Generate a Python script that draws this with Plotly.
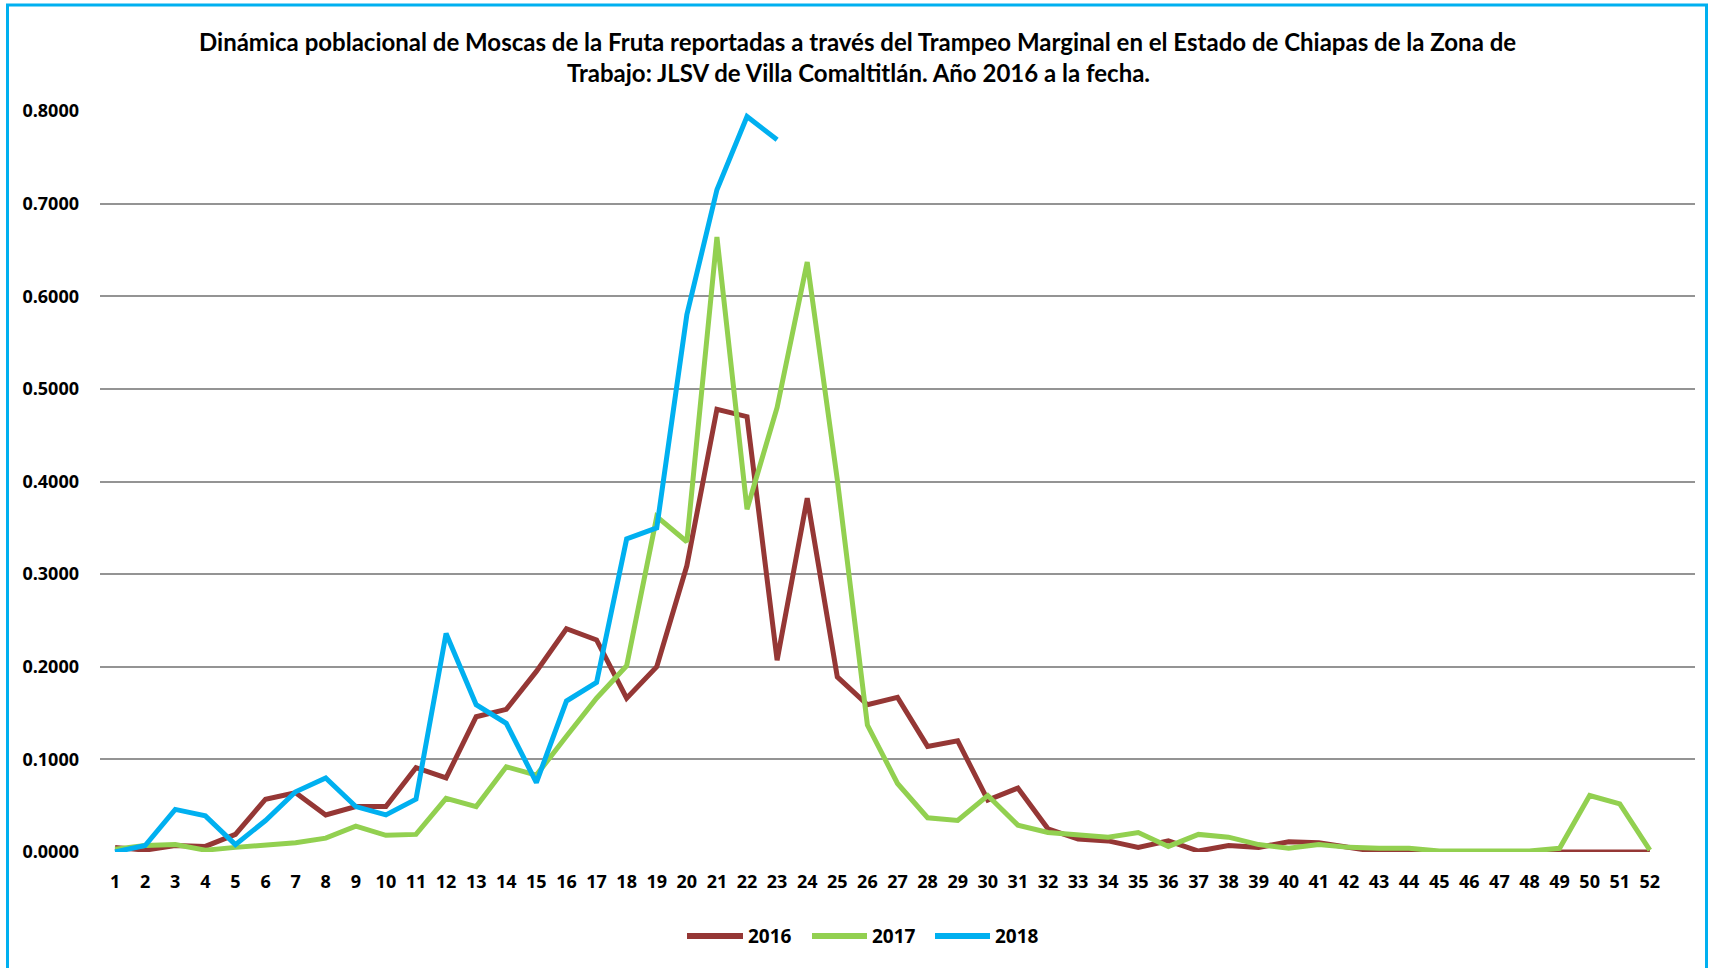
import plotly.graph_objects as go

weeks = list(range(1, 53))
week_labels = [str(w) for w in weeks]

y2016 = [0.005, 0.002, 0.007, 0.006, 0.019, 0.057, 0.064, 0.040, 0.049, 0.049,
         0.091, 0.080, 0.146, 0.154, 0.195, 0.241, 0.229, 0.166, 0.200, 0.309,
         0.478, 0.470, 0.207, 0.382, 0.189, 0.159, 0.167, 0.114, 0.120, 0.056,
         0.069, 0.025, 0.014, 0.012, 0.005, 0.012, 0.001, 0.007, 0.005, 0.011,
         0.010, 0.005, 0.000, 0.000, 0.000, 0.000, 0.000, 0.000, 0.001, 0.001,
         0.000, 0.000]

y2017 = [0.003, 0.007, 0.008, 0.002, 0.005, 0.007, 0.010, 0.015, 0.028, 0.018,
         0.019, 0.058, 0.049, 0.092, 0.083, 0.125, 0.166, 0.201, 0.362, 0.335,
         0.664, 0.370, 0.480, 0.637, 0.402, 0.137, 0.074, 0.037, 0.034, 0.061,
         0.029, 0.021, 0.019, 0.016, 0.021, 0.006, 0.019, 0.016, 0.008, 0.004,
         0.008, 0.005, 0.004, 0.004, 0.001, 0.001, 0.001, 0.001, 0.004, 0.061,
         0.052, 0.002]

y2018 = [0.000, 0.007, 0.046, 0.039, 0.008, 0.034, 0.065, 0.080, 0.049, 0.040,
         0.057, 0.236, 0.159, 0.139, 0.075, 0.163, 0.183, 0.338, 0.350, 0.580,
         0.715, 0.794, 0.769]

series_names = ["2016", "2017", "2018"]
series_colors = ["#953735", "#92D050", "#00B0F0"]
y_ticks = [0.0, 0.1, 0.2, 0.3, 0.4, 0.5, 0.6, 0.7, 0.8]

title_line1 = ("Dinámica poblacional de Moscas de la Fruta reportadas a través del "
               "Trampeo Marginal en el Estado de Chiapas de la Zona de")
title_line2 = "Trabajo: JLSV de Villa Comaltitlán. Año 2016 a la fecha."

W, H = 1709, 968
L, R, T, B = 100, 14, 111, 116
plot_w = W - L - R
plot_h = H - T - B

def px_to_paper_x(px):
    return (px - L) / plot_w

def py_to_paper_y(py):
    return (H - B - py) / plot_h

FONT = "Open Sans"

fig = go.Figure()
for name, color, ys in zip(series_names, series_colors, [y2016, y2017, y2018]):
    fig.add_trace(go.Scatter(
        x=weeks[:len(ys)], y=ys, mode="lines", name=name,
        line=dict(color=color, width=5),
        showlegend=False,
    ))

# Custom legend (long line samples like the original)
legend_line_x = [(687, 743), (812, 867), (935, 990)]
legend_y = 936
shapes = [
    dict(type="rect", xref="paper", yref="paper", layer="above",
         x0=px_to_paper_x(7.5), x1=px_to_paper_x(1706.5),
         y0=py_to_paper_y(1100), y1=py_to_paper_y(5),
         line=dict(color="#00B0F0", width=3), fillcolor="rgba(0,0,0,0)"),
]
annotations = [
    dict(text=title_line1, xref="paper", yref="paper",
         x=px_to_paper_x(857), y=py_to_paper_y(42), xanchor="center", yanchor="middle",
         showarrow=False, font=dict(family="Lato", size=24, weight="bold", color="black")),
    dict(text=title_line2, xref="paper", yref="paper",
         x=px_to_paper_x(858), y=py_to_paper_y(73), xanchor="center", yanchor="middle",
         showarrow=False, font=dict(family="Lato", size=24, weight="bold", color="black")),
]
for name, color, (x0, x1) in zip(series_names, series_colors, legend_line_x):
    shapes.append(dict(type="line", xref="paper", yref="paper",
                       x0=px_to_paper_x(x0), x1=px_to_paper_x(x1),
                       y0=py_to_paper_y(legend_y), y1=py_to_paper_y(legend_y),
                       line=dict(color=color, width=6)))
    annotations.append(dict(text=name, xref="paper", yref="paper",
                            x=px_to_paper_x(x1 + 3), y=py_to_paper_y(legend_y),
                            xanchor="left", yanchor="middle", showarrow=False,
                            font=dict(family=FONT, size=19, weight="bold", color="black")))

fig.update_layout(
    width=W, height=H,
    margin=dict(l=L, r=R, t=T, b=B),
    paper_bgcolor="white", plot_bgcolor="white",
    font=dict(family=FONT, color="black"),
    showlegend=False,
    xaxis=dict(
        range=[0.5, 53.5], tickmode="array", tickvals=weeks, ticktext=week_labels,
        showgrid=False, zeroline=False, showline=False, ticks="",
        tickfont=dict(family=FONT, size=18, weight="bold", color="black"),
        ticklabelstandoff=17, fixedrange=True,
    ),
    yaxis=dict(
        range=[0, 0.8], tickmode="array", tickvals=y_ticks,
        ticktext=[f"{v:.4f}" for v in y_ticks],
        showgrid=True, gridcolor="#949494", gridwidth=2,
        zeroline=False, showline=False, ticks="",
        tickfont=dict(family=FONT, size=18, weight="bold", color="black"),
        ticklabelstandoff=20, fixedrange=True,
    ),
    annotations=annotations,
    shapes=shapes,
)

fig.write_html("out.html", config={"displayModeBar": False},
               post_script="document.body.style.margin='0';document.body.style.overflow='hidden';")
